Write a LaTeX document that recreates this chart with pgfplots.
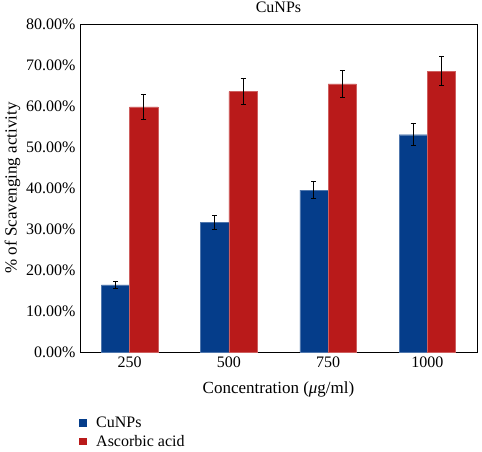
\documentclass[border=0pt]{standalone}
\usepackage{pgfplots}
\pgfplotsset{compat=1.18}
\usepackage{fontspec}
\setmainfont{Liberation Serif}
\definecolor{cublue}{RGB}{5,61,138}
\definecolor{acred}{RGB}{185,26,26}
\pgfplotstableread{
x cu cuerr asc ascerr
0 16.4 0.9 59.8 3.0
1 31.7 1.7 63.5 3.2
2 39.5 2.1 65.4 3.3
3 53.0 2.7 68.5 3.5
}\datatable
\begin{document}
\begin{tikzpicture}
\path[use as bounding box] (-80pt,-99pt) rectangle (402pt,352pt);
\begin{axis}[
  scale only axis,
  width=397pt, height=328pt,
  at={(0,0)}, anchor=south west,
  xmin=-0.5, xmax=3.5,
  ymin=0, ymax=80,
  ytick={0,10,...,80},
  yticklabel={\pgfmathprintnumber[fixed,fixed zerofill,precision=2]{\tick}\%},
  /pgf/number format/assume math mode=true,
  xtick=data,
  xticklabels={250,500,750,1000},
  major tick length=0pt,
  tick label style={font=\fontsize{16}{18}\selectfont},
  yticklabel style={xshift=-1pt},
  xticklabel style={yshift=-1pt},
  ybar=0pt,
  bar width=0.285,
  title={CuNPs},
  title style={font=\fontsize{16}{18}\selectfont, yshift=2pt},
  xlabel={Concentration (\textit{μ}g/ml)},
  xlabel style={font=\fontsize{17}{19}\selectfont, yshift=-8pt},
  ylabel={\% of Scavenging activity},
  ylabel style={font=\fontsize{17}{19}\selectfont, yshift=-1pt},
  axis line style={black, line width=0.8pt},
  legend style={at={(0,0)}, anchor=north west, xshift=-4pt, yshift=-61pt, draw=none, fill=none,
    font=\fontsize{16}{18}\selectfont, row sep=2pt, cells={anchor=west},
    nodes={inner xsep=4pt}},
  legend image code/.code={\fill[#1, draw=none] (0pt,-3.8pt) rectangle (7.6pt,3.8pt);
    \path[draw=none, fill=none] (0pt,0pt) -- (13pt,0pt);},
  error bars/y dir=both,
  error bars/y explicit,
  error bars/error bar style={black, line width=1pt},
  error bars/error mark options={black, line width=1pt, mark size=2.5pt, rotate=90},
]
\addplot[fill=cublue, draw=cublue!70!white] table[x=x, y=cu, y error=cuerr] {\datatable};
\addlegendentry{CuNPs}
\addplot[fill=acred, draw=acred!70!white] table[x=x, y=asc, y error=ascerr] {\datatable};
\addlegendentry{Ascorbic acid}
\end{axis}
\end{tikzpicture}
\end{document}
